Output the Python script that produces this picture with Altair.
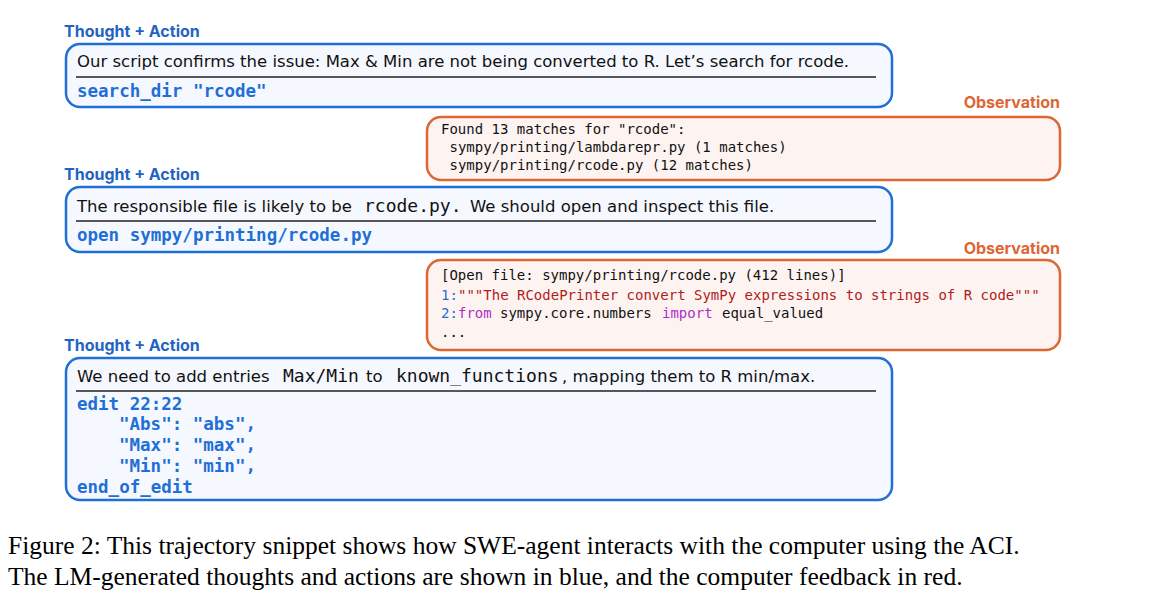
import altair as alt
import pandas as pd

BLUE = "#1f6fd6"
ORANGE = "#dd6633"

# boxes: x, x2, y, y2, kind
box_x = [66, 427, 66, 427, 66]
box_x2 = [892, 1060, 892, 1060, 892]
box_y = [44, 117, 187, 260, 358]
box_y2 = [107, 180, 252, 350, 500]
box_kind = ["ta", "obs", "ta", "obs", "ta"]

sep_y = [77, 221, 391]

labels = ["Thought + Action", "Observation", "Thought + Action", "Observation", "Thought + Action"]
label_x = [64, 1060, 64, 1060, 64]
label_y = [32, 103, 175, 249, 346]
label_align = ["left", "right", "left", "right", "left"]

# text segments: text, x, y, font, size, weight, color
segs = [
    ("Our script confirms the issue: Max & Min are not being converted to R. Let\u2019s search for rcode.", 77, 62, "sans", 16.5, "normal", "#111111"),
    ('search_dir "rcode"', 77, 92, "mono", 17.5, "bold", BLUE),
    ('Found 13 matches for "rcode":', 441, 130, "mono", 14, "normal", "#111111"),
    ("sympy/printing/lambdarepr.py (1 matches)", 449.5, 148, "mono", 14, "normal", "#111111"),
    ("sympy/printing/rcode.py (12 matches)", 449.5, 166, "mono", 14, "normal", "#111111"),
    ("The responsible file is likely to be", 77, 207, "sans", 16.5, "normal", "#111111"),
    ("rcode.py.", 364, 207, "mono", 18, "normal", "#111111"),
    ("We should open and inspect this file.", 470, 207, "sans", 16.5, "normal", "#111111"),
    ("open sympy/printing/rcode.py", 77, 236, "mono", 17.5, "bold", BLUE),
    ("[Open file: sympy/printing/rcode.py (412 lines)]", 441, 276, "mono", 14, "normal", "#111111"),
    ("1:", 441, 296, "mono", 14, "normal", BLUE),
    ('"""The RCodePrinter convert SymPy expressions to strings of R code"""', 458, 296, "mono", 14, "normal", "#b01c1c"),
    ("2:", 441, 314, "mono", 14, "normal", BLUE),
    ("from", 458, 314, "mono", 14, "normal", "#b02cc8"),
    ("sympy.core.numbers", 500, 314, "mono", 14, "normal", "#111111"),
    ("import", 662, 314, "mono", 14, "normal", "#b02cc8"),
    ("equal_valued", 722, 314, "mono", 14, "normal", "#111111"),
    ("...", 441, 333, "mono", 14, "normal", "#111111"),
    ("We need to add entries", 77, 377, "sans", 16.5, "normal", "#111111"),
    ("Max/Min", 283, 377, "mono", 18, "normal", "#111111"),
    ("to", 366, 377, "sans", 16.5, "normal", "#111111"),
    ("known_functions", 396, 377, "mono", 18, "normal", "#111111"),
    (", mapping them to R min/max.", 562, 377, "sans", 16.5, "normal", "#111111"),
    ("edit 22:22", 77, 405, "mono", 17.5, "bold", BLUE),
    ('"Abs": "abs",', 119, 425, "mono", 17.5, "bold", BLUE),
    ('"Max": "max",', 119, 446, "mono", 17.5, "bold", BLUE),
    ('"Min": "min",', 119, 467, "mono", 17.5, "bold", BLUE),
    ("end_of_edit", 77, 488, "mono", 17.5, "bold", BLUE),
]

caption = [
    "Figure 2: This trajectory snippet shows how SWE-agent interacts with the computer using the ACI.",
    "The LM-generated thoughts and actions are shown in blue, and the computer feedback in red.",
]
caption_y = [546, 577]

X = alt.Scale(domain=[8, 1149], nice=False, zero=False)
Y = alt.Scale(domain=[8, 600], nice=False, zero=False, reverse=True)

boxes = pd.DataFrame(dict(x=box_x, x2=box_x2, y=box_y, y2=box_y2, kind=box_kind))
rects = alt.Chart(boxes).mark_rect(cornerRadius=14, strokeWidth=2.5).encode(
    x=alt.X("x:Q", scale=X, axis=None), x2="x2:Q",
    y=alt.Y("y:Q", scale=Y, axis=None), y2="y2:Q",
    fill=alt.Fill("kind:N", scale=alt.Scale(domain=["ta", "obs"], range=["#f5f8fe", "#fdf4f1"]), legend=None),
    stroke=alt.Stroke("kind:N", scale=alt.Scale(domain=["ta", "obs"], range=[BLUE, ORANGE]), legend=None),
)

seps = alt.Chart(pd.DataFrame(dict(y=sep_y))).mark_rule(color="#222222", strokeWidth=1.3).encode(
    x=alt.value(68), x2=alt.value(868), y=alt.Y("y:Q", scale=Y, axis=None))

lab = pd.DataFrame(dict(t=labels, x=label_x, y=label_y, a=label_align, kind=box_kind))
layers = [rects, seps]
for al in ["left", "right"]:
    layers.append(alt.Chart(lab[lab.a == al]).mark_text(align=al, baseline="middle", font="Inter",
        fontSize=16, fontWeight="bold").encode(
        x=alt.X("x:Q", scale=X, axis=None), y=alt.Y("y:Q", scale=Y, axis=None), text="t:N",
        color=alt.Color("kind:N", scale=alt.Scale(domain=["ta", "obs"], range=["#1f63c4", ORANGE]), legend=None)))

sdf = pd.DataFrame(segs, columns=["t", "x", "y", "f", "s", "w", "c"])
for (f, s, w, c), g in sdf.groupby(["f", "s", "w", "c"]):
    layers.append(alt.Chart(g).mark_text(align="left", baseline="middle",
        font="DejaVu Sans Mono" if f == "mono" else "DejaVu Sans", fontSize=s, fontWeight=w, color=c).encode(
        x=alt.X("x:Q", scale=X, axis=None), y=alt.Y("y:Q", scale=Y, axis=None), text="t:N"))

cap = pd.DataFrame(dict(t=caption, y=caption_y))
layers.append(alt.Chart(cap).mark_text(align="left", baseline="middle", font="Liberation Serif",
    fontSize=25.5, color="#000000").encode(x=alt.value(0), y=alt.Y("y:Q", scale=Y, axis=None), text="t:N"))

chart = alt.layer(*layers).properties(width=1141, height=592, padding=0,
    autosize=alt.AutoSizeParams(type="none")).configure_view(stroke=None)
chart.save("out.html", embed_options={"renderer": "svg", "actions": False})
